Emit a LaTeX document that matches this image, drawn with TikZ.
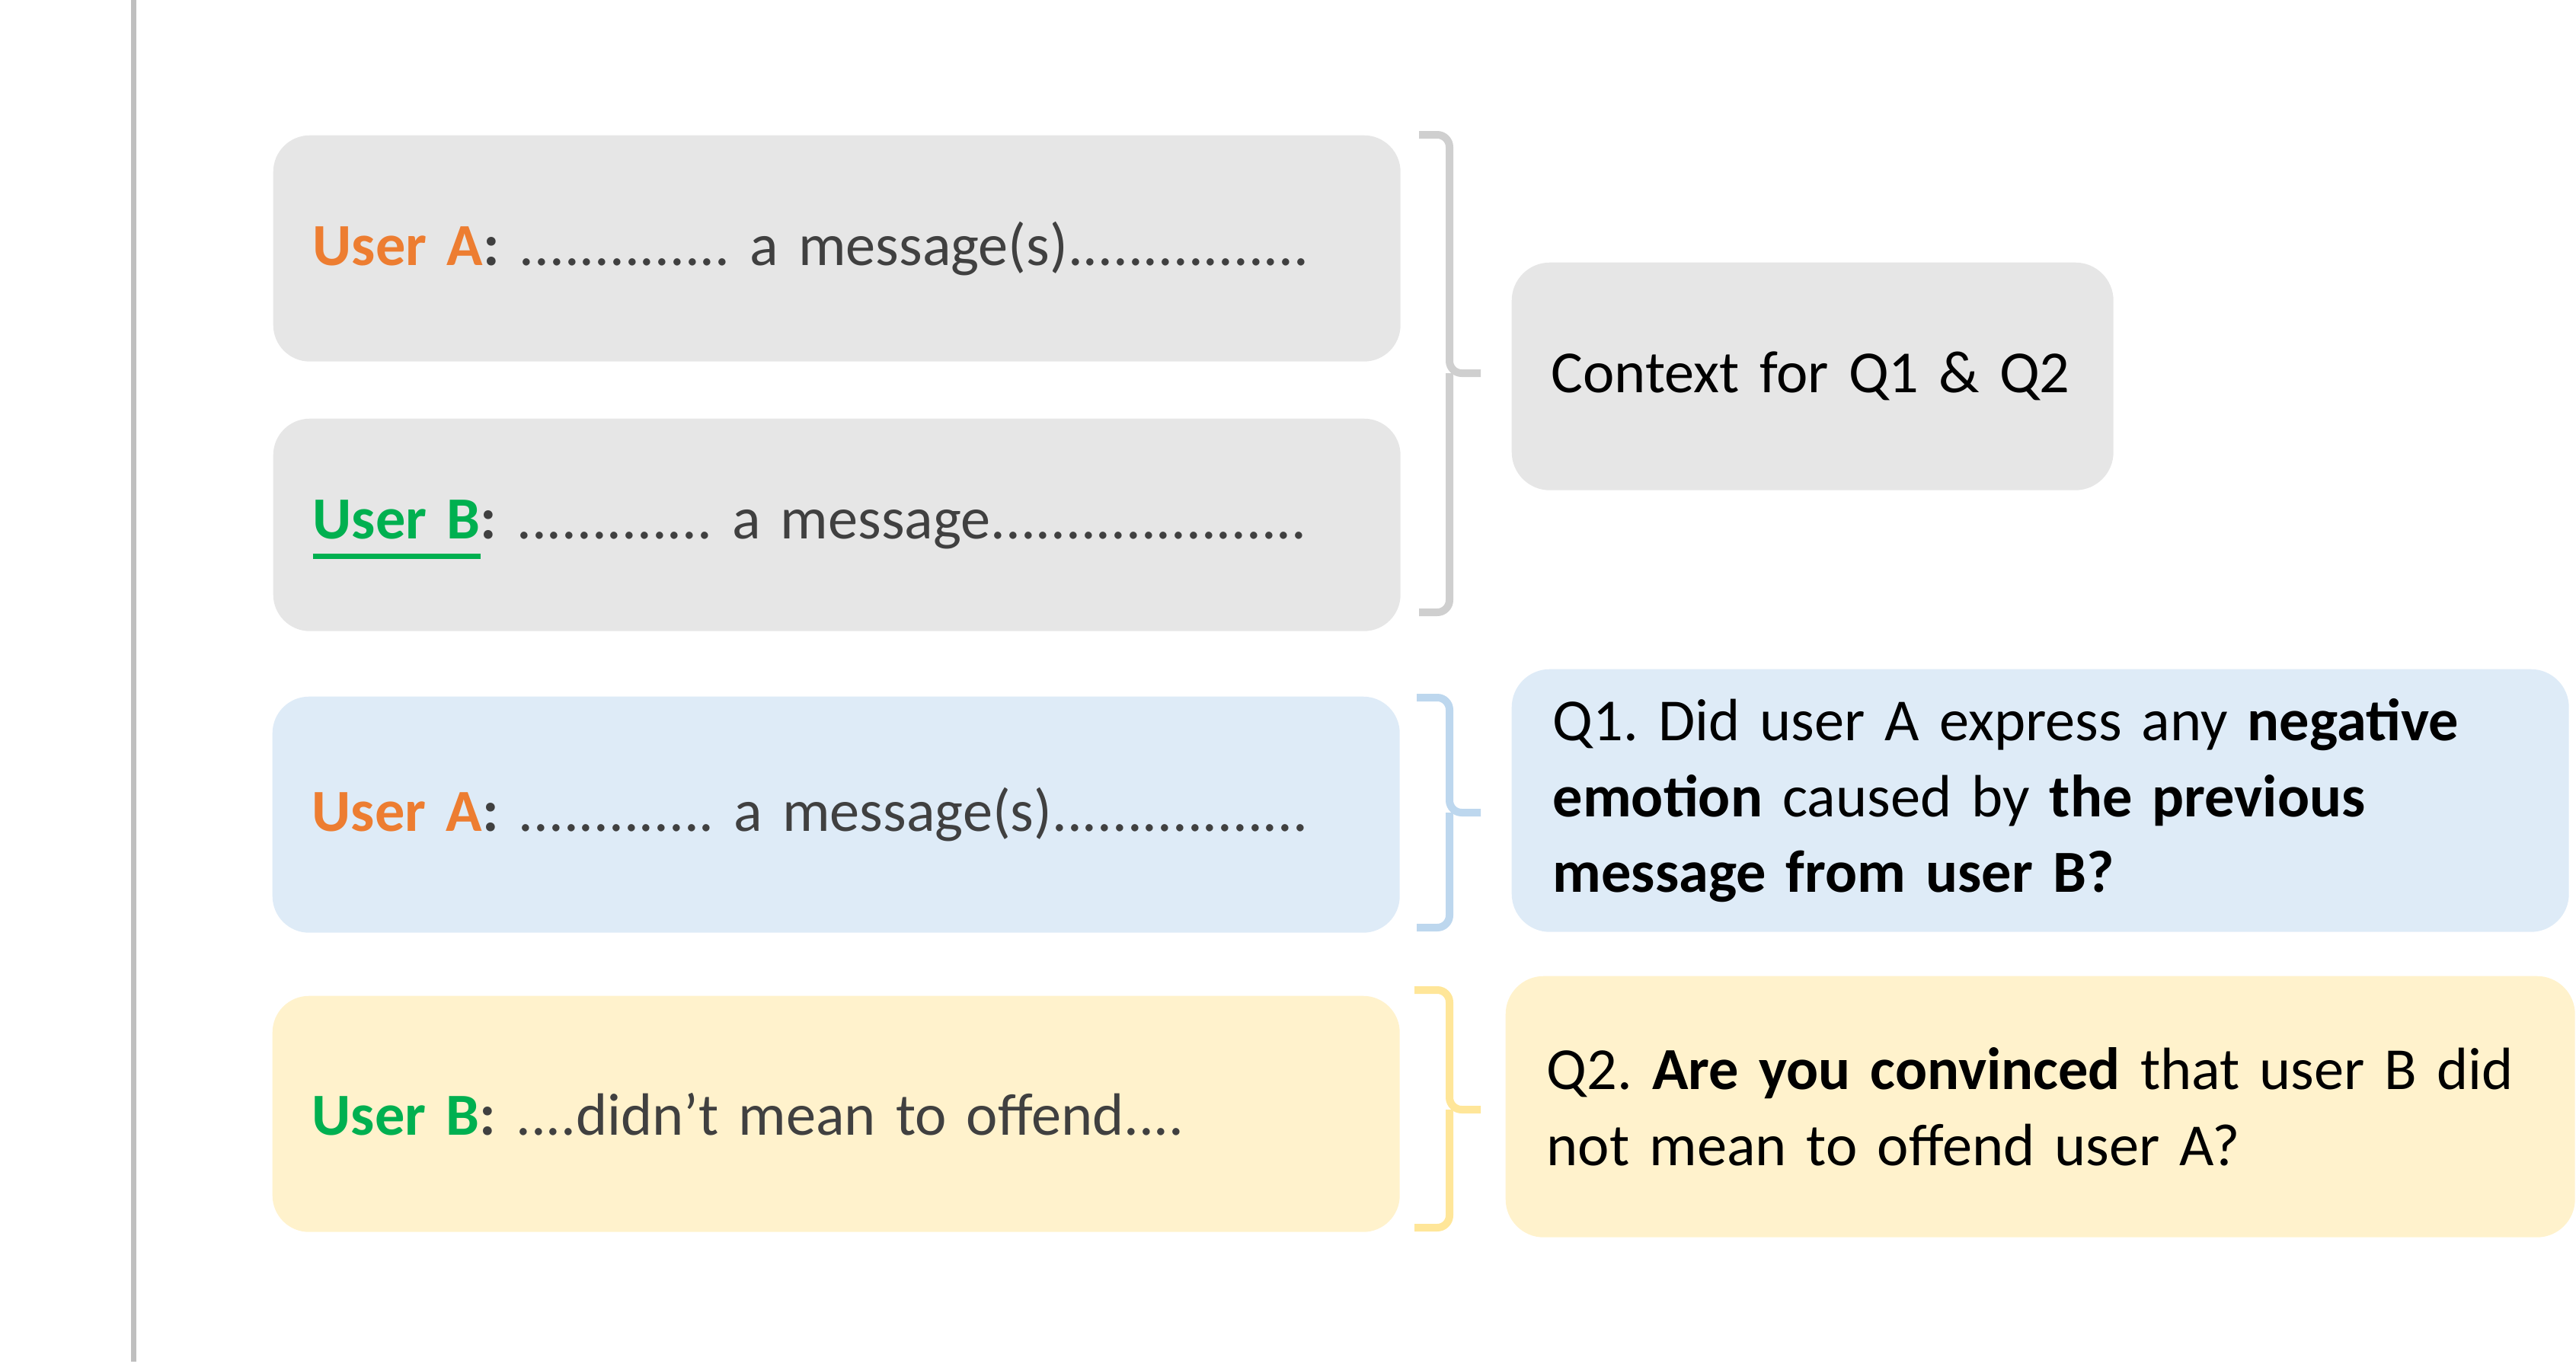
\documentclass[tikz,border=0pt]{standalone}
\usepackage{fontspec}
\setmainfont{Carlito}
\definecolor{boxgray}{HTML}{E6E6E6}
\definecolor{boxblue}{HTML}{DEEBF7}
\definecolor{boxyellow}{HTML}{FFF2CC}
\definecolor{bracegray}{HTML}{CFCFCF}
\definecolor{braceblue}{HTML}{BDD7EE}
\definecolor{braceyellow}{HTML}{FFE699}
\definecolor{rulegray}{HTML}{BFBFBF}
\definecolor{usera}{HTML}{ED7D31}
\definecolor{userb}{HTML}{00B050}
\definecolor{msgtext}{HTML}{404040}
\newcommand{\ua}{\textbf{\color{usera}User A}\textbf{:}}
\newcommand{\ub}{\textbf{\color{userb}User B}\textbf{:}}
\newcommand{\ubline}{\setbox0\hbox{\textbf{\color{userb}User B}}%
  \rlap{\smash{\color{userb}\rule[-0.26cm]{\wd0}{0.07cm}}}\box0\textbf{:}}
\tikzset{
  msgbox/.style={rounded corners=0.48cm, anchor=north west, align=left,
    text width=13.76cm, inner xsep=0.52cm, text=msgtext,
    font=\fontsize{22.3}{28.4}\selectfont\frenchspacing},
  qbox/.style={rounded corners=0.5cm, anchor=north west, align=left,
    text=black, font=\fontsize{22.3}{28.4}\selectfont\frenchspacing},
  bracepath/.style={line width=0.1cm, rounded corners=0.16cm},
}
\newcommand{\drawbrace}[5]{% colour, end x, top, tip, bottom
  \draw[bracepath, #1] (#2,#3) -- (19.03,#3) -- (19.03,#4) -- (19.44,#4);
  \draw[bracepath, #1] (19.03,#4) -- (19.03,#5) -- (#2,#5);
}
\begin{document}
\begin{tikzpicture}[x=1cm, y=-1cm]
	\useasboundingbox (0,0) rectangle (33.82,17.95);
	\draw[rulegray, line width=0.07cm] (1.755,0)--(1.755,17.88);
	% left column
	\node[msgbox, fill=boxgray, minimum height=2.97cm] (ctxa) at (3.58,1.77)
		{\ua{} .............. a message(s)................};
	\node[msgbox, fill=boxgray, minimum height=2.79cm] (ctxb) at (3.58,5.49)
		{\ubline{} ............. a message.....................};
	\node[msgbox, fill=boxblue, minimum height=3.10cm] (cura) at (3.57,9.14)
		{\ua{} ............. a message(s).................};
	\node[msgbox, fill=boxyellow, minimum height=3.10cm] (curb) at (3.57,13.07)
		{\ub{} ....didn’t mean to offend....};
	% braces
	\drawbrace{bracegray}{18.63}{1.77}{4.90}{8.04}
	\drawbrace{braceblue}{18.60}{9.16}{10.67}{12.18}
	\drawbrace{braceyellow}{18.57}{13.00}{14.57}{16.12}
	% right column
	\node[qbox, fill=boxgray, minimum height=2.99cm, text width=6.86cm, inner xsep=0.52cm] (ctxq) at (19.84,3.44)
		{Context for Q1 \& Q2};
	\node[qbox, fill=boxblue, minimum height=3.45cm, text width=12.80cm, inner xsep=0.54cm] (qone) at (19.84,8.78)
		{Q1. Did user A express any \textbf{negative}\\
		\textbf{emotion} caused by \textbf{the previous}\\
		\textbf{message from user B?}};
	\node[qbox, fill=boxyellow, minimum height=3.43cm, text width=12.96cm, inner xsep=0.54cm] (qtwo) at (19.76,12.81)
		{Q2. \textbf{Are you convinced} that user B did\\
		not mean to offend user A?};
\end{tikzpicture}
\end{document}
